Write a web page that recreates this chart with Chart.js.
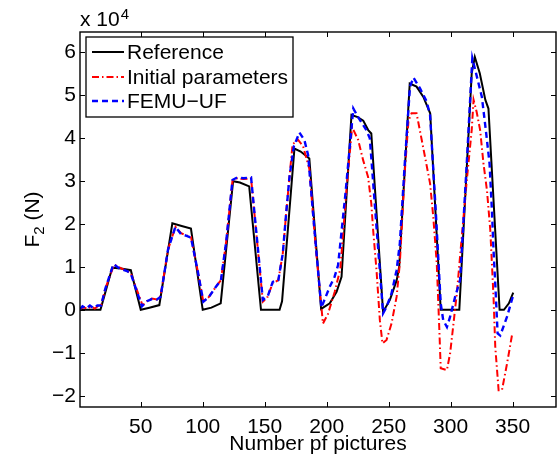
<!DOCTYPE html>
<html>
<head>
<meta charset="utf-8">
<script src="https://cdn.jsdelivr.net/npm/chart.js@4/dist/chart.umd.min.js"></script>
<style>
  html, body { margin: 0; padding: 0; background: #fff; }
  #wrap { width: 557px; height: 462px; }
</style>
</head>
<body>
<div id="wrap"><canvas id="chart" width="557" height="462"></canvas></div>
<script>
// F2 against picture number. Forces are in units of 1e4 N (axis shows "x 10^4").
const xTicks = [50, 100, 150, 200, 250, 300, 350];
const yTicks = [-2, -1, 0, 1, 2, 3, 4, 5, 6];

const refX = [1, 17.5, 27, 34, 42, 50, 57, 65, 75.5, 83, 90.5, 100, 107, 114.5, 124.5, 130, 137.5, 147, 162, 164,
  174, 179, 186, 195.5, 202.5, 208, 212, 220, 225, 229.5, 233.5, 236, 245.5, 251, 256.5, 258.5, 267, 272.5, 278, 283.5,
  292, 307, 317, 319.5, 323.5, 328, 330.5, 339.5, 343, 347, 350.5];
const refF = [0, 0, 0.98, 0.96, 0.92, 0, 0.05, 0.11, 2.01, 1.95, 1.89, 0, 0.05, 0.15, 2.99, 2.96, 2.87, 0, 0, 0.2,
  3.75, 3.68, 3.52, 0.02, 0.15, 0.42, 0.77, 4.53, 4.48, 4.4, 4.18, 4.1, -0.05, 0.23, 0.69, 1.0, 5.26, 5.19, 4.95, 4.57,
  0, 0, 5.5, 5.88, 5.5, 4.88, 4.68, 0, 0, 0.15, 0.4];

const initX = [1, 4, 7, 10, 13, 16, 18, 21.5, 28.5, 34, 39, 42, 51.5, 55, 59, 63, 66, 72, 78, 82.5,
  87, 90.5, 96, 100.5, 105, 110.5, 114.7, 119, 124, 128, 133, 139, 148.5, 152, 156.5, 161, 164.6, 167.3, 170, 172.5,
  177, 181, 186, 191, 197, 201, 206.5, 211, 216, 220.5, 225.4, 229.4, 233.4, 236, 237.5, 240.2, 242.9, 245, 248.3, 252.3,
  256.4, 259, 263, 266, 268.5, 272.5, 279.3, 283.4, 286, 288.8, 290.9, 292, 297, 299.6, 302.3, 305, 309, 313, 317, 318.5,
  321, 323.8, 326.5, 329.3, 332, 334.6, 336, 338.7, 341.4, 345.5, 349.5];
const initF = [0.02, 0.06, 0.02, 0.08, 0.03, 0.1, 0.1, 0.5, 1.05, 0.97, 0.9, 0.85, 0.1, 0.2, 0.26, 0.24, 0.32, 1.4, 1.93, 1.78,
  1.73, 1.7, 0.9, 0.19, 0.3, 0.53, 0.69, 1.6, 3.0, 3.06, 3.04, 3.06, 0.19, 0.28, 0.62, 0.69, 1.31, 2.24, 3.09, 3.85,
  3.95, 3.8, 3.28, 1.5, -0.32, -0.1, 0.42, 0.95, 2.8, 4.25, 3.95, 3.48, 3.09, 2.47, 1.85, 0.92, -0.24, -0.78, -0.7, -0.32,
  0.3, 1.08, 3.2, 4.4, 4.57, 4.57, 3.56, 2.94, 2.16, 1.08, -0.47, -1.36, -1.4, -1.01, -0.32, 0.38, 1.7, 3.0, 4.18, 4.88,
  4.6, 4.18, 3.4, 2.78, 1.85, 0.3, -0.86, -1.87, -1.87, -1.25, -0.59];

const femuX = [1, 3, 6, 9, 12, 15, 18, 21.5, 28, 33, 39, 42, 51, 55, 59, 63, 66, 72, 78, 82.5,
  87, 90.5, 96, 100.5, 105, 110.5, 114.7, 119, 124, 128, 133, 139, 148.5, 152.5, 156.5, 161, 164.6, 167.3, 170, 173.5,
  178, 182, 185, 190, 195.7, 202.4, 206.4, 209.2, 215, 221.5, 226, 232, 234.8, 240, 245.5, 248.3, 252.3, 256.4, 259, 263,
  267.2, 270, 275.3, 280.7, 283.4, 288, 292, 294, 297, 299.6, 303.6, 307.6, 313, 317.5, 320.5, 325.2, 328.7, 331.4, 333.3, 334.6,
  336, 337.9, 340, 345.5, 350.5];
const femuF = [0.02, 0.08, 0.03, 0.1, 0.04, 0.1, 0.1, 0.5, 1.06, 0.96, 0.9, 0.84, 0.08, 0.2, 0.25, 0.24, 0.3, 1.4, 1.93, 1.76,
  1.72, 1.68, 0.9, 0.19, 0.3, 0.53, 0.69, 1.6, 3.02, 3.08, 3.06, 3.08, 0.23, 0.32, 0.65, 0.69, 1.31, 2.24, 3.09, 3.8,
  4.12, 3.95, 3.6, 1.9, 0.05, 0.53, 0.77, 1.04, 2.66, 4.68, 4.45, 4.18, 3.99, 2.0, -0.08, 0.07, 0.38, 0.92, 1.54, 3.4,
  5.19, 5.4, 5.15, 4.84, 4.53, 2.3, 0.15, -0.24, -0.4, -0.16, 0.3, 0.69, 3.4, 5.85, 5.5, 4.95, 4.1, 3.4, 2.32, 1.39,
  0.61, -0.55, -0.6, -0.16, 0.34];

const FONT = '"Liberation Sans", Arial, Helvetica, sans-serif';
const FS = 21;

function pts(xs, ys) { return xs.map((x, i) => ({ x: x, y: ys[i] })); }
function fmt(v) { return String(v).replace('-', '\u2212'); }

// MATLAB-like box, inward ticks, legend and labels
const decor = {
  id: 'decor',
  afterDatasetsDraw(chart) {
    const { ctx, chartArea: a, scales } = chart;
    const sx = scales.x, sy = scales.y;
    ctx.save();
    ctx.strokeStyle = '#000';
    ctx.lineWidth = 1.4;
    ctx.setLineDash([]);
    ctx.strokeRect(a.left, a.top, a.right - a.left, a.bottom - a.top);
    ctx.beginPath();
    xTicks.forEach(v => {
      const p = Math.round(sx.getPixelForValue(v)) + 0.5;
      ctx.moveTo(p, a.bottom); ctx.lineTo(p, a.bottom - 5);
      ctx.moveTo(p, a.top); ctx.lineTo(p, a.top + 5);
    });
    yTicks.forEach(v => {
      const p = Math.round(sy.getPixelForValue(v)) + 0.5;
      ctx.moveTo(a.left, p); ctx.lineTo(a.left + 5, p);
      ctx.moveTo(a.right, p); ctx.lineTo(a.right - 5, p);
    });
    ctx.lineWidth = 1;
    ctx.stroke();

    // legend
    const lx = 86, ly = 37, lw = 207, lh = 80;
    ctx.fillStyle = '#fff';
    ctx.fillRect(lx, ly, lw, lh);
    ctx.lineWidth = 1.3;
    ctx.strokeRect(lx, ly, lw, lh);
    const rows = [52, 77, 101];
    ctx.font = FS + 'px ' + FONT;
    ctx.textBaseline = 'middle';
    ctx.textAlign = 'left';
    chart.data.datasets.forEach((ds, i) => {
      const yy = rows[i];
      ctx.beginPath();
      ctx.strokeStyle = ds.borderColor;
      ctx.lineWidth = ds.borderWidth;
      ctx.setLineDash(ds.borderDash || []);
      ctx.moveTo(92, yy); ctx.lineTo(124, yy);
      ctx.stroke();
      ctx.setLineDash([]);
      ctx.fillStyle = '#000';
      ctx.fillText(ds.label, 127, yy + 1);
    });

    // x 10^4
    ctx.textBaseline = 'alphabetic';
    ctx.font = FS + 'px ' + FONT;
    ctx.fillText('x 10', 80, 26);
    const w10 = ctx.measureText('x 10').width;
    ctx.font = '15px ' + FONT;
    ctx.fillText('4', 80 + w10 + 1, 19);

    // x title
    ctx.font = FS + 'px ' + FONT;
    ctx.textAlign = 'center';
    ctx.fillText('Number pf pictures', (a.left + a.right) / 2, 450);

    // y title F_2 (N), rotated
    ctx.translate(39, (a.top + a.bottom) / 2);
    ctx.rotate(-Math.PI / 2);
    ctx.textAlign = 'left';
    ctx.font = FS + 'px ' + FONT;
    const wF = ctx.measureText('F').width;
    const wN = ctx.measureText(' (N)').width;
    ctx.font = '15px ' + FONT;
    const w2 = ctx.measureText('2').width;
    const x0 = -(wF + w2 + wN) / 2;
    ctx.font = FS + 'px ' + FONT;
    ctx.fillText('F', x0, 0);
    ctx.fillText(' (N)', x0 + wF + w2, 0);
    ctx.font = '15px ' + FONT;
    ctx.fillText('2', x0 + wF, 5);
    ctx.restore();
  }
};

new Chart(document.getElementById('chart'), {
  type: 'line',
  data: {
    datasets: [
      { label: 'Reference', data: pts(refX, refF), borderColor: '#000000', borderWidth: 2, order: 3 },
      { label: 'Initial parameters', data: pts(initX, initF), borderColor: '#ff0000', borderWidth: 2,
        borderDash: [7, 3, 1.5, 3], order: 2 },
      { label: 'FEMU\u2212UF', data: pts(femuX, femuF), borderColor: '#0000ff', borderWidth: 2.4,
        borderDash: [6, 4], order: 1 }
    ]
  },
  options: {
    responsive: false,
    animation: false,
    layout: { padding: { top: 32, right: 1, left: 0, bottom: 0 } },
    elements: { point: { radius: 0 }, line: { tension: 0, fill: false } },
    plugins: { legend: { display: false }, tooltip: { enabled: false } },
    scales: {
      x: {
        type: 'linear', min: 1, max: 385,
        afterBuildTicks: s => { s.ticks = xTicks.map(v => ({ value: v })); },
        afterFit: s => { s.height = 55; },
        grid: { display: false, drawTicks: false },
        border: { display: false },
        ticks: { color: '#000', font: { family: FONT, size: FS }, padding: 8, maxRotation: 0, callback: v => fmt(v) }
      },
      y: {
        type: 'linear', min: -2.26, max: 6.46,
        afterBuildTicks: s => { s.ticks = yTicks.map(v => ({ value: v })); },
        afterFit: s => { s.width = 80; },
        grid: { display: false, drawTicks: false },
        border: { display: false },
        ticks: { color: '#000', font: { family: FONT, size: FS }, padding: 4, callback: v => fmt(v) }
      }
    }
  },
  plugins: [decor]
});
</script>
</body>
</html>
